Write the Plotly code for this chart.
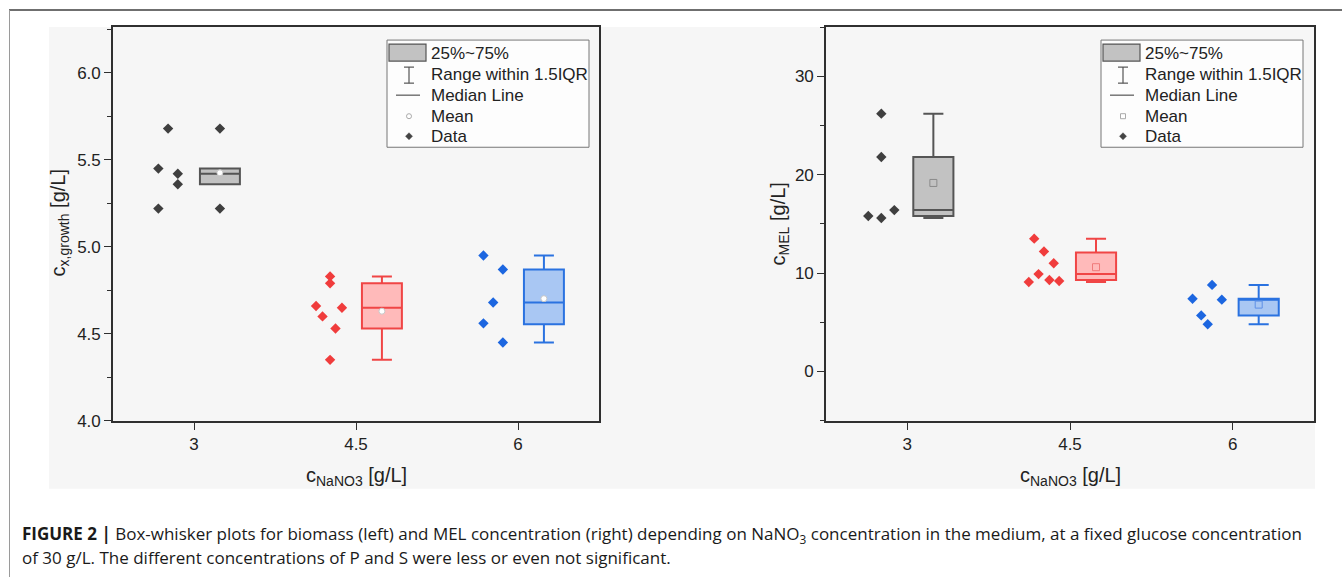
import numpy as np
import plotly.graph_objects as go

# ---------------- data ----------------
concentrations = [3, 4.5, 6]
tick_labels = ["3", "4.5", "6"]

# biomass c_x,growth [g/L]
biomass_3 = [5.68, 5.45, 5.42, 5.36, 5.22]
biomass_45 = [4.83, 4.79, 4.66, 4.65, 4.60, 4.53, 4.35]
biomass_6 = [4.95, 4.87, 4.68, 4.56, 4.45]
biomass_q1 = [5.36, 4.53, 4.555]
biomass_median = [5.42, 4.65, 4.68]
biomass_q3 = [5.45, 4.79, 4.87]
biomass_low = [5.36, 4.35, 4.45]
biomass_high = [5.45, 4.83, 4.95]

# MEL c_MEL [g/L]
mel_3 = [26.2, 21.8, 15.8, 15.6, 16.4]
mel_45 = [13.5, 12.2, 11.0, 9.9, 9.3, 9.2, 9.1]
mel_6 = [7.4, 8.8, 7.3, 5.7, 4.8]
mel_q1 = [15.8, 9.3, 5.7]
mel_median = [16.4, 9.9, 7.3]
mel_q3 = [21.8, 12.1, 7.4]
mel_low = [15.6, 9.1, 4.8]
mel_high = [26.2, 13.5, 8.8]

# ---------------- styling / positions ----------------
W, H = 1342, 577          # design grid (pixels of the reference)
FIG_H = 588               # rendered height (page is squeezed to 577 when photographed)
def px(x): return x / W
def py(y): return 1 - y / H

FONT = "Arial, Liberation Sans, Helvetica, sans-serif"
CAP_FONT = "Open Sans, Arial, sans-serif"
BOX_SHIFT = 0.24
BOX_WIDTH = 0.37

# horizontal spread of the raw data points (axis units, relative to the category)
spread_b = [[-0.24, -0.33, -0.15, -0.15, -0.33],
            [-0.24, -0.24, -0.37, -0.13, -0.31, -0.19, -0.24],
            [-0.32, -0.14, -0.23, -0.32, -0.14]]
spread_m = [[-0.24, -0.24, -0.36, -0.24, -0.12],
            [-0.33, -0.24, -0.15, -0.29, -0.19, -0.10, -0.38],
            [-0.37, -0.19, -0.10, -0.29, -0.23]]

point_colors = ["#3f3f3f", "#f03c3c", "#1c66e0"]
box_fill = ["#c2c2c2", "#ffbaba", "#a9c7f3"]
box_line = ["#555555", "#f04545", "#2a72e0"]
mean_line_r = ["#8a8a8a", "#f07a7a", "#5f90e6"]

fig = go.Figure()

def add_panel(xa, ya, groups, q1, med, q3, lo, hi, spreads, mean_style):
    for i, (c, vals) in enumerate(zip(concentrations, groups)):
        bx = c + BOX_SHIFT
        fig.add_trace(go.Box(
            x=[bx], q1=[q1[i]], median=[med[i]], q3=[q3[i]],
            lowerfence=[lo[i]], upperfence=[hi[i]],
            width=BOX_WIDTH, whiskerwidth=0.5, boxpoints=False,
            fillcolor=box_fill[i], line=dict(color=box_line[i], width=2),
            xaxis=xa, yaxis=ya, showlegend=False, hoverinfo="skip"))
        # raw data
        fig.add_trace(go.Scatter(
            x=[c + s for s in spreads[i]], y=vals, mode="markers",
            marker=dict(symbol="diamond", size=8, color=point_colors[i]),
            xaxis=xa, yaxis=ya, showlegend=False, hoverinfo="skip"))
        # outliers beyond the whiskers at the box position
        outl = [v for v in vals if v > hi[i] + 1e-9 or v < lo[i] - 1e-9]
        if outl:
            fig.add_trace(go.Scatter(
                x=[bx] * len(outl), y=outl, mode="markers",
                marker=dict(symbol="diamond", size=8, color=point_colors[i]),
                xaxis=xa, yaxis=ya, showlegend=False, hoverinfo="skip"))
        # mean
        m = float(np.mean(vals))
        if mean_style == "circle":
            mk = dict(symbol="circle", size=6, color="white",
                      line=dict(color="#c8c8c8", width=1))
        else:
            mk = dict(symbol="square-open", size=7, color=mean_line_r[i],
                      line=dict(width=1))
        fig.add_trace(go.Scatter(x=[bx], y=[m], mode="markers", marker=mk,
                                 xaxis=xa, yaxis=ya, showlegend=False,
                                 hoverinfo="skip"))

add_panel("x", "y", [biomass_3, biomass_45, biomass_6], biomass_q1, biomass_median,
          biomass_q3, biomass_low, biomass_high, spread_b, "circle")
add_panel("x2", "y2", [mel_3, mel_45, mel_6], mel_q1, mel_median,
          mel_q3, mel_low, mel_high, spread_m, "square")

axis_common = dict(showline=True, mirror=True, linecolor="#2f2f2f", linewidth=1.6,
                   ticks="outside", tickcolor="#2f2f2f", ticklen=7, tickwidth=1.3,
                   showgrid=False, zeroline=False,
                   tickfont=dict(family=FONT, size=17, color="#222222"))

ydom = [py(420), py(27)]
fig.update_layout(
    width=W, height=FIG_H, autosize=False, margin=dict(l=0, r=0, t=0, b=0),
    font=dict(family=FONT, size=16, color="#222222"),
    paper_bgcolor="white", plot_bgcolor="#fbfbfb",
    boxmode="overlay", hovermode=False,
    xaxis=dict(domain=[px(113), px(599)], range=[2.25, 6.75],
               tickvals=concentrations, ticktext=tick_labels, anchor="y", **axis_common),
    yaxis=dict(domain=ydom, range=[4.0, 6.264], tickvals=[4.0, 4.5, 5.0, 5.5, 6.0],
               tickformat=".1f", anchor="x",
               minor=dict(dtick=0.25, ticks="outside", ticklen=4, tickcolor="#2f2f2f"),
               **axis_common),
    xaxis2=dict(domain=[px(826), px(1314)], range=[2.25, 6.75],
                tickvals=concentrations, ticktext=tick_labels, anchor="y2", **axis_common),
    yaxis2=dict(domain=ydom, range=[-5, 35], tickvals=[0, 10, 20, 30], anchor="x2",
                minor=dict(dtick=5, ticks="outside", ticklen=4, tickcolor="#2f2f2f"),
                **axis_common),
)

shapes = []
annotations = []

# light grey figure panel and outer frame
shapes.append(dict(type="rect", xref="paper", yref="paper", x0=px(49), x1=px(1315),
                   y0=py(488), y1=py(27), fillcolor="#f6f6f6", line=dict(width=0),
                   layer="below"))
shapes.append(dict(type="line", xref="paper", yref="paper", x0=px(9), x1=1,
                   y0=py(10), y1=py(10), line=dict(color="#6f6f6f", width=2)))
shapes.append(dict(type="line", xref="paper", yref="paper", x0=px(9.5), x1=px(9.5),
                   y0=py(10), y1=0, line=dict(color="#9a9a9a", width=1)))

def txt(x, y, text, size=16, family=FONT, **kw):
    d = dict(xref="paper", yref="paper", x=px(x), y=py(y), text=text, showarrow=False,
             font=dict(family=family, size=size, color=kw.pop("color", "#222222")))
    d.update(kw)
    annotations.append(d)

def legend(x0, mean_kind):
    y0 = 40
    shapes.append(dict(type="rect", xref="paper", yref="paper", x0=px(x0), x1=px(x0 + 202),
                       y0=py(y0 + 107), y1=py(y0), fillcolor="#fdfdfd",
                       line=dict(color="#777777", width=1)))
    rows = [y0 + 13, y0 + 34, y0 + 55, y0 + 76, y0 + 96]
    cx = x0 + 22
    # box icon
    shapes.append(dict(type="rect", xref="paper", yref="paper", x0=px(x0 + 2), x1=px(x0 + 39),
                       y0=py(rows[0] + 8), y1=py(rows[0] - 9), fillcolor="#c2c2c2",
                       line=dict(color="#555555", width=1.2)))
    # whisker icon
    wy0, wy1 = rows[1] - 7, rows[1] + 9
    shapes.append(dict(type="line", xref="paper", yref="paper", x0=px(cx), x1=px(cx),
                       y0=py(wy0), y1=py(wy1), line=dict(color="#555555", width=1.2)))
    for wy in (wy0, wy1):
        shapes.append(dict(type="line", xref="paper", yref="paper", x0=px(cx - 5), x1=px(cx + 5),
                           y0=py(wy), y1=py(wy), line=dict(color="#555555", width=1.2)))
    # median line
    shapes.append(dict(type="line", xref="paper", yref="paper", x0=px(x0 + 9), x1=px(x0 + 33),
                       y0=py(rows[2]), y1=py(rows[2]), line=dict(color="#555555", width=1.2)))
    # mean symbol
    r = 2.5
    shapes.append(dict(type="circle" if mean_kind == "circle" else "rect",
                       xref="paper", yref="paper", x0=px(cx - r), x1=px(cx + r),
                       y0=py(rows[3] + r), y1=py(rows[3] - r), fillcolor="white",
                       line=dict(color="#aaaaaa", width=1)))
    # data diamond
    d = 3.5
    path = (f"M {px(cx)} {py(rows[4] - d)} L {px(cx + d)} {py(rows[4])} "
            f"L {px(cx)} {py(rows[4] + d)} L {px(cx - d)} {py(rows[4])} Z")
    shapes.append(dict(type="path", xref="paper", yref="paper", path=path,
                       fillcolor="#444444", line=dict(color="#444444", width=0.5)))
    labels = ["25%~75%", "Range within 1.5IQR", "Median Line", "Mean", "Data"]
    for lab, ry in zip(labels, rows):
        txt(x0 + 42, ry, lab, size=17, xanchor="left", yanchor="middle")

legend(387, "circle")
legend(1101, "square")

# axis titles
txt(59, 223, "c<sub>x,growth</sub> [g/L]", size=20, textangle=-90,
    xanchor="center", yanchor="middle")
txt(356, 476, "c<sub>NaNO3</sub> [g/L]", size=20, xanchor="center", yanchor="middle")
txt(779, 224, "c<sub>MEL</sub> [g/L]", size=20, textangle=-90,
    xanchor="center", yanchor="middle")
txt(1070, 476, "c<sub>NaNO3</sub> [g/L]", size=20, xanchor="center", yanchor="middle")

# caption
txt(20, 534, "<b>FIGURE 2 |</b> Box-whisker plots for biomass (left) and MEL concentration "
    "(right) depending on NaNO<sub>3</sub> concentration in the medium, at a fixed glucose "
    "concentration", size=17, family=CAP_FONT, xanchor="left", yanchor="middle",
    color="#1a1a1a")
txt(20, 557, "of 30 g/L. The different concentrations of P and S were less or even not "
    "significant.", size=17, family=CAP_FONT, xanchor="left", yanchor="middle",
    color="#1a1a1a")

fig.update_layout(shapes=shapes, annotations=annotations)
fig.write_html(
    "out.html",
    config={"displayModeBar": False, "responsive": False},
    post_script=("document.body.style.margin='0';document.body.style.padding='0';"
                 "document.body.style.overflow='hidden';"
                 "document.documentElement.style.overflow='hidden';"),
)
